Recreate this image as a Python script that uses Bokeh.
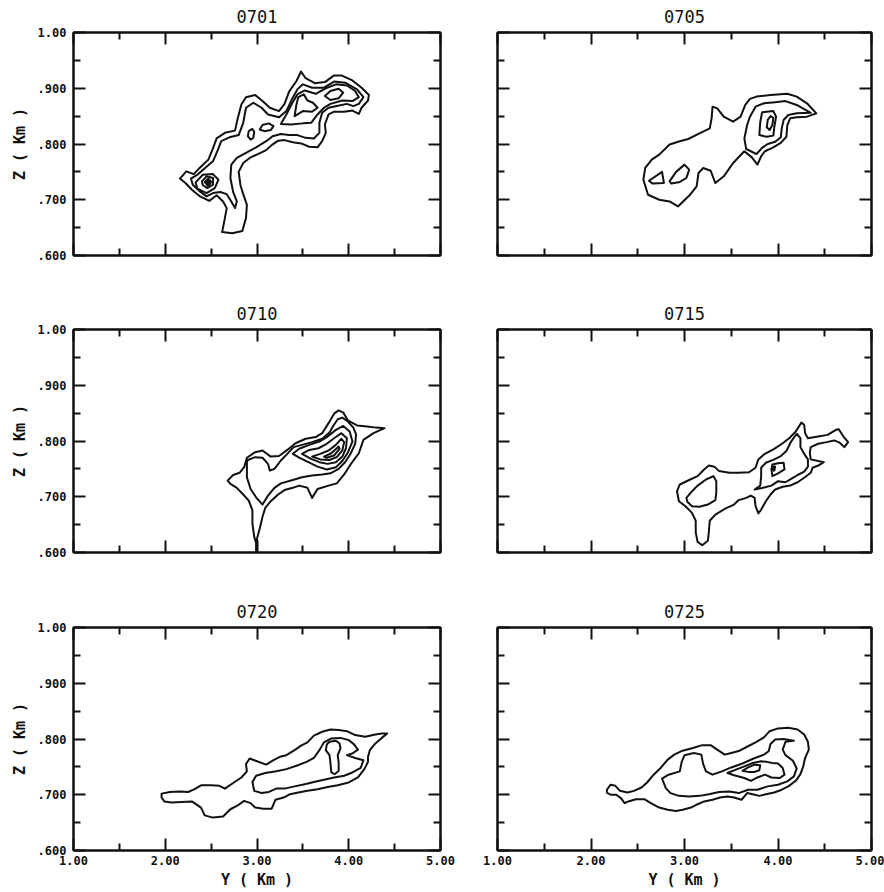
from bokeh.plotting import figure
from bokeh.layouts import column, row
from bokeh.models import Range1d, LinearAxis, FixedTicker, CustomJSTickFormatter
from bokeh.embed import file_html
from bokeh.resources import INLINE

# ---- axes -------------------------------------------------------------
y_km_ticks = [1.0, 2.0, 3.0, 4.0, 5.0]
y_km_minor = [1.5, 2.5, 3.5, 4.5]
y_km_labels = ["1.00", "2.00", "3.00", "4.00", "5.00"]
z_km_ticks = [0.6, 0.7, 0.8, 0.9, 1.0]
z_km_minor = [0.65, 0.75, 0.85, 0.95]
z_km_labels = [".600", ".700", ".800", ".900", "1.00"]

times = ["0701", "0705", "0710", "0715", "0720", "0725"]

# ---- 0701 contours (Y km, Z km) ---------------------------------------
t0701_1_y = [2.16, 2.23, 2.31, 2.38, 2.47, 2.52, 2.56, 2.65, 2.76, 2.79, 2.83, 2.88, 2.98, 3.06, 3.14, 3.24,
             3.30, 3.35, 3.43, 3.48, 3.53, 3.63, 3.74, 3.84, 3.92, 4.04, 4.14, 4.22, 4.21, 4.14, 4.11, 4.04,
             3.95, 3.84, 3.78, 3.74, 3.75, 3.71, 3.66, 3.57, 3.48, 3.39, 3.30, 3.23, 3.16, 3.10, 3.01, 2.92,
             2.85, 2.80, 2.82, 2.85, 2.89, 2.88, 2.84, 2.73, 2.62, 2.65, 2.67, 2.63, 2.56, 2.48, 2.38, 2.29, 2.22]
t0701_1_z = [0.738, 0.751, 0.746, 0.758, 0.772, 0.792, 0.810, 0.820, 0.824, 0.846, 0.871, 0.884, 0.888, 0.877,
             0.865, 0.859, 0.872, 0.894, 0.913, 0.930, 0.918, 0.909, 0.911, 0.923, 0.923, 0.914, 0.901, 0.888,
             0.878, 0.865, 0.854, 0.860, 0.858, 0.858, 0.853, 0.835, 0.820, 0.805, 0.794, 0.795, 0.801, 0.803,
             0.807, 0.806, 0.798, 0.789, 0.782, 0.775, 0.766, 0.750, 0.726, 0.710, 0.691, 0.667, 0.644, 0.640,
             0.642, 0.667, 0.685, 0.697, 0.708, 0.698, 0.706, 0.718, 0.730]
t0701_2_y = [2.28, 2.36, 2.44, 2.52, 2.57, 2.61, 2.70, 2.80, 2.85, 2.88, 2.96, 3.05, 3.12, 3.24, 3.32, 3.38,
             3.44, 3.50, 3.60, 3.73, 3.84, 3.96, 4.09, 4.16, 4.11, 4.05, 3.98, 3.87, 3.78, 3.71, 3.68, 3.68,
             3.62, 3.53, 3.44, 3.35, 3.26, 3.17, 3.10, 2.99, 2.88, 2.78, 2.72, 2.71, 2.74, 2.78, 2.76, 2.72,
             2.67, 2.60, 2.52, 2.45, 2.37, 2.30]
t0701_2_z = [0.738, 0.746, 0.758, 0.769, 0.788, 0.805, 0.812, 0.816, 0.838, 0.865, 0.874, 0.865, 0.853, 0.848,
             0.859, 0.880, 0.898, 0.907, 0.901, 0.901, 0.912, 0.910, 0.898, 0.884, 0.872, 0.868, 0.872, 0.868,
             0.865, 0.856, 0.838, 0.820, 0.810, 0.811, 0.816, 0.816, 0.818, 0.814, 0.805, 0.794, 0.784, 0.775,
             0.763, 0.739, 0.714, 0.697, 0.685, 0.697, 0.710, 0.714, 0.712, 0.706, 0.716, 0.727]
t0701_3_y = [3.26, 3.32, 3.38, 3.44, 3.52, 3.64, 3.75, 3.86, 3.98, 4.07, 4.11, 4.04, 3.93, 3.80, 3.73, 3.66,
             3.59, 3.50, 3.37]
t0701_3_z = [0.836, 0.853, 0.872, 0.889, 0.896, 0.890, 0.900, 0.907, 0.905, 0.895, 0.884, 0.877, 0.878, 0.872,
             0.865, 0.853, 0.838, 0.837, 0.835]
t0701_4_y = [3.41, 3.43, 3.45, 3.51, 3.55, 3.61, 3.66, 3.60, 3.50]
t0701_4_z = [0.850, 0.871, 0.884, 0.889, 0.878, 0.874, 0.865, 0.858, 0.859]
t0701_5_y = [3.74, 3.80, 3.89, 3.94, 3.89, 3.80]
t0701_5_z = [0.886, 0.895, 0.899, 0.892, 0.882, 0.879]
t0701_6_y = [2.90, 2.91, 2.95, 2.97, 2.96, 2.93]
t0701_6_z = [0.814, 0.823, 0.827, 0.822, 0.811, 0.808]
t0701_7_y = [3.03, 3.06, 3.13, 3.18, 3.15, 3.08]
t0701_7_z = [0.826, 0.834, 0.837, 0.832, 0.825, 0.823]
t0701_8_y = [2.33, 2.41, 2.52, 2.58, 2.54, 2.45, 2.35]
t0701_8_z = [0.731, 0.745, 0.746, 0.736, 0.721, 0.712, 0.720]
t0701_9_y = [2.40, 2.45, 2.52, 2.52, 2.46, 2.41]
t0701_9_z = [0.733, 0.742, 0.739, 0.727, 0.721, 0.726]
t0701_peak_y = [2.43, 2.47, 2.50, 2.47]
t0701_peak_z = [0.732, 0.738, 0.732, 0.724]

# ---- 0705 contours ----------------------------------------------------
t0705_1_y = [2.56, 2.58, 2.65, 2.73, 2.84, 2.95, 3.04, 3.16, 3.27, 3.29, 3.30, 3.35, 3.42, 3.52, 3.60, 3.65,
             3.70, 3.77, 3.92, 4.10, 4.20, 4.31, 4.41, 4.31, 4.20, 4.13, 4.10, 4.09, 4.03, 3.94, 3.86, 3.82,
             3.78, 3.72, 3.64, 3.52, 3.42, 3.33, 3.28, 3.20, 3.15, 3.13, 3.06, 2.93, 2.84, 2.73, 2.61]
t0705_1_z = [0.736, 0.757, 0.772, 0.781, 0.799, 0.805, 0.809, 0.819, 0.828, 0.846, 0.867, 0.864, 0.849, 0.840,
             0.849, 0.870, 0.881, 0.885, 0.888, 0.890, 0.885, 0.873, 0.855, 0.849, 0.848, 0.846, 0.834, 0.813,
             0.802, 0.793, 0.787, 0.778, 0.763, 0.776, 0.787, 0.766, 0.742, 0.730, 0.752, 0.757, 0.748, 0.724,
             0.709, 0.688, 0.697, 0.700, 0.709]
t0705_2_y = [3.66, 3.64, 3.67, 3.70, 3.76, 3.85, 3.97, 4.08, 4.20, 4.35, 4.20, 4.11, 4.06, 4.04, 4.03, 3.97,
             3.89, 3.83, 3.77, 3.71]
t0705_2_z = [0.791, 0.810, 0.834, 0.849, 0.867, 0.873, 0.875, 0.877, 0.870, 0.856, 0.855, 0.852, 0.843, 0.828,
             0.812, 0.804, 0.800, 0.793, 0.782, 0.787]
t0705_3_y = [3.80, 3.81, 3.83, 3.95, 3.98, 3.96, 3.95, 3.88]
t0705_3_z = [0.816, 0.839, 0.857, 0.859, 0.849, 0.830, 0.815, 0.813]
t0705_4_y = [3.88, 3.89, 3.92, 3.95, 3.94, 3.91]
t0705_4_z = [0.830, 0.843, 0.850, 0.847, 0.834, 0.825]
t0705_5_y = [2.62, 2.76, 2.78, 2.66]
t0705_5_z = [0.734, 0.750, 0.730, 0.729]
t0705_6_y = [2.84, 2.91, 3.00, 3.05, 3.02, 2.95, 2.86]
t0705_6_z = [0.733, 0.750, 0.763, 0.754, 0.739, 0.732, 0.729]

# ---- 0710 contours ----------------------------------------------------
t0710_1_y = [2.68, 2.74, 2.81, 2.86, 2.89, 2.98, 3.06, 3.10, 3.15, 3.24, 3.33, 3.42, 3.53, 3.64, 3.71, 3.78,
             3.84, 3.89, 3.94, 3.99, 4.09, 4.20, 4.30, 4.39, 4.27, 4.16, 4.11, 4.02, 3.95, 3.87, 3.78, 3.66,
             3.60, 3.55, 3.46, 3.39, 3.30, 3.23, 3.15, 3.09, 3.06, 3.03, 3.00, 3.00, 2.99, 2.99, 2.97, 2.95,
             2.95, 2.91, 2.85, 2.78, 2.71]
t0710_1_z = [0.729, 0.739, 0.743, 0.753, 0.770, 0.780, 0.783, 0.778, 0.772, 0.773, 0.784, 0.796, 0.804, 0.807,
             0.814, 0.832, 0.849, 0.855, 0.851, 0.837, 0.828, 0.826, 0.824, 0.823, 0.814, 0.802, 0.778, 0.758,
             0.740, 0.724, 0.720, 0.714, 0.698, 0.716, 0.720, 0.716, 0.712, 0.704, 0.692, 0.680, 0.664, 0.643,
             0.625, 0.617, 0.600, 0.617, 0.628, 0.652, 0.676, 0.693, 0.704, 0.716, 0.723]
t0710_2_y = [2.89, 2.89, 2.93, 2.99, 3.06, 3.12, 3.19, 3.26, 3.39, 3.49, 3.60, 3.71, 3.80, 3.89, 3.96, 4.02,
             4.07, 4.08, 4.05, 3.99, 3.93, 3.88, 3.83, 3.79, 3.71, 3.60, 3.49, 3.40, 3.33, 3.26, 3.19, 3.14,
             3.12, 3.06, 2.98, 2.90]
t0710_2_z = [0.762, 0.735, 0.714, 0.699, 0.686, 0.702, 0.716, 0.724, 0.730, 0.735, 0.738, 0.740, 0.742, 0.750,
             0.762, 0.777, 0.795, 0.812, 0.824, 0.835, 0.842, 0.839, 0.827, 0.815, 0.804, 0.798, 0.793, 0.789,
             0.777, 0.765, 0.750, 0.747, 0.759, 0.770, 0.771, 0.766]
t0710_3_y = [3.39, 3.46, 3.57, 3.68, 3.77, 3.86, 3.94, 4.01, 4.04, 3.99, 3.93, 3.86, 3.76, 3.66, 3.56, 3.46]
t0710_3_z = [0.777, 0.786, 0.793, 0.799, 0.808, 0.820, 0.827, 0.817, 0.799, 0.779, 0.764, 0.753, 0.749, 0.754,
             0.762, 0.770]
t0710_4_y = [3.49, 3.57, 3.67, 3.76, 3.84, 3.92, 3.98, 3.97, 3.93, 3.86, 3.77, 3.68, 3.59]
t0710_4_z = [0.777, 0.784, 0.787, 0.795, 0.805, 0.814, 0.805, 0.787, 0.772, 0.762, 0.759, 0.762, 0.768]
t0710_5_y = [3.60, 3.69, 3.78, 3.86, 3.92, 3.95, 3.93, 3.87, 3.79, 3.69]
t0710_5_z = [0.772, 0.777, 0.783, 0.793, 0.804, 0.798, 0.783, 0.771, 0.766, 0.767]
t0710_6_y = [3.73, 3.81, 3.89, 3.90, 3.84, 3.76]
t0710_6_z = [0.772, 0.778, 0.790, 0.786, 0.774, 0.770]

# ---- 0715 contours ----------------------------------------------------
t0715_1_y = [2.92, 2.95, 3.05, 3.14, 3.21, 3.26, 3.32, 3.37, 3.48, 3.58, 3.69, 3.76, 3.79, 3.85, 3.96, 4.05,
             4.12, 4.19, 4.25, 4.28, 4.29, 4.32, 4.43, 4.53, 4.62, 4.65, 4.70, 4.75, 4.71, 4.66, 4.60, 4.52,
             4.43, 4.35, 4.34, 4.35, 4.43, 4.49, 4.43, 4.37, 4.35, 4.28, 4.21, 4.13, 4.05, 3.97, 3.92, 3.87,
             3.82, 3.79, 3.76, 3.75, 3.71, 3.66, 3.58, 3.53, 3.44, 3.33, 3.27, 3.26, 3.25, 3.19, 3.14, 3.12,
             3.12, 3.08, 3.01, 2.94]
t0715_1_z = [0.710, 0.722, 0.730, 0.737, 0.749, 0.756, 0.754, 0.746, 0.743, 0.743, 0.744, 0.752, 0.767, 0.776,
             0.786, 0.796, 0.805, 0.817, 0.833, 0.829, 0.814, 0.805, 0.808, 0.811, 0.820, 0.821, 0.808, 0.798,
             0.789, 0.797, 0.801, 0.798, 0.795, 0.789, 0.779, 0.767, 0.764, 0.762, 0.756, 0.752, 0.743, 0.734,
             0.726, 0.720, 0.718, 0.713, 0.704, 0.692, 0.677, 0.670, 0.683, 0.698, 0.702, 0.698, 0.694, 0.686,
             0.679, 0.668, 0.657, 0.636, 0.621, 0.613, 0.619, 0.636, 0.657, 0.671, 0.683, 0.692]
t0715_2_y = [3.75, 3.81, 3.82, 3.82, 3.87, 3.96, 4.03, 4.09, 4.14, 4.20, 4.24, 4.24, 4.28, 4.32, 4.32, 4.28,
             4.21, 4.15, 4.08, 4.00, 3.93, 3.84]
t0715_2_z = [0.713, 0.720, 0.737, 0.752, 0.761, 0.767, 0.773, 0.782, 0.799, 0.813, 0.805, 0.789, 0.777, 0.767,
             0.754, 0.745, 0.739, 0.733, 0.726, 0.728, 0.720, 0.716]
t0715_3_y = [3.93, 3.94, 4.00, 4.06, 4.07, 4.00, 3.94]
t0715_3_z = [0.749, 0.758, 0.760, 0.761, 0.749, 0.742, 0.737]
t0715_peak_y = [3.93, 3.97, 3.96]
t0715_peak_z = [0.752, 0.755, 0.746]
t0715_4_y = [3.02, 3.07, 3.14, 3.23, 3.31, 3.34, 3.34, 3.33, 3.25, 3.16, 3.08, 3.03]
t0715_4_z = [0.698, 0.708, 0.720, 0.731, 0.737, 0.728, 0.707, 0.694, 0.686, 0.682, 0.683, 0.691]

# ---- 0720 contours ----------------------------------------------------
t0720_1_y = [1.96, 2.05, 2.16, 2.25, 2.32, 2.39, 2.50, 2.59, 2.65, 2.74, 2.83, 2.89, 2.88, 2.92, 3.00, 3.10,
             3.18, 3.25, 3.32, 3.41, 3.48, 3.55, 3.62, 3.71, 3.80, 3.89, 3.98, 4.07, 4.18, 4.29, 4.36, 4.42,
             4.36, 4.29, 4.23, 4.21, 4.21, 4.17, 4.10, 4.00, 3.88, 3.77, 3.66, 3.55, 3.45, 3.36, 3.29, 3.20,
             3.16, 3.07, 2.98, 2.93, 2.86, 2.79, 2.71, 2.63, 2.52, 2.43, 2.39, 2.29, 2.18, 2.07, 1.99, 1.96]
t0720_1_z = [0.702, 0.705, 0.706, 0.705, 0.710, 0.717, 0.717, 0.716, 0.711, 0.721, 0.731, 0.742, 0.755, 0.765,
             0.760, 0.754, 0.762, 0.768, 0.771, 0.780, 0.788, 0.794, 0.806, 0.813, 0.817, 0.816, 0.814, 0.807,
             0.804, 0.808, 0.810, 0.810, 0.802, 0.792, 0.780, 0.768, 0.759, 0.746, 0.731, 0.722, 0.717, 0.714,
             0.710, 0.707, 0.704, 0.701, 0.695, 0.691, 0.675, 0.675, 0.677, 0.685, 0.689, 0.681, 0.674, 0.661,
             0.659, 0.663, 0.677, 0.688, 0.687, 0.686, 0.688, 0.695]
t0720_2_y = [2.97, 2.95, 2.99, 3.09, 3.21, 3.32, 3.43, 3.54, 3.62, 3.68, 3.73, 3.81, 3.91, 4.00, 4.06, 4.10,
             4.04, 3.98, 4.07, 4.16, 4.13, 4.04, 3.95, 3.84, 3.73, 3.62, 3.52, 3.41, 3.30, 3.21, 3.13, 3.05]
t0720_2_z = [0.707, 0.723, 0.734, 0.739, 0.742, 0.746, 0.752, 0.759, 0.766, 0.780, 0.794, 0.801, 0.802, 0.798,
             0.790, 0.781, 0.774, 0.771, 0.766, 0.762, 0.748, 0.740, 0.734, 0.731, 0.727, 0.723, 0.719, 0.715,
             0.711, 0.711, 0.705, 0.703]
t0720_3_y = [3.76, 3.79, 3.86, 3.90, 3.91, 3.88, 3.89, 3.89, 3.85, 3.81, 3.80, 3.79, 3.75]
t0720_3_z = [0.790, 0.795, 0.797, 0.792, 0.783, 0.771, 0.758, 0.743, 0.737, 0.740, 0.758, 0.771, 0.780]

# ---- 0725 contours ----------------------------------------------------
t0725_1_y = [2.17, 2.21, 2.26, 2.31, 2.39, 2.46, 2.54, 2.60, 2.67, 2.75, 2.82, 2.89, 2.98, 3.09, 3.19, 3.28,
             3.35, 3.43, 3.50, 3.59, 3.68, 3.77, 3.85, 3.91, 4.00, 4.11, 4.21, 4.28, 4.32, 4.33, 4.29, 4.27,
             4.24, 4.19, 4.11, 4.04, 3.96, 3.87, 3.80, 3.73, 3.67, 3.61, 3.53, 3.46, 3.38, 3.30, 3.21, 3.14,
             3.07, 2.98, 2.91, 2.82, 2.73, 2.64, 2.57, 2.48, 2.40, 2.36, 2.32, 2.27, 2.21, 2.17]
t0725_1_z = [0.709, 0.718, 0.716, 0.707, 0.704, 0.707, 0.713, 0.722, 0.736, 0.749, 0.763, 0.772, 0.779, 0.784,
             0.789, 0.789, 0.781, 0.772, 0.775, 0.779, 0.787, 0.795, 0.803, 0.814, 0.819, 0.820, 0.817, 0.808,
             0.795, 0.781, 0.766, 0.751, 0.737, 0.725, 0.715, 0.709, 0.704, 0.701, 0.698, 0.701, 0.703, 0.691,
             0.695, 0.697, 0.695, 0.691, 0.688, 0.683, 0.677, 0.673, 0.671, 0.673, 0.677, 0.685, 0.692, 0.692,
             0.688, 0.685, 0.694, 0.700, 0.700, 0.704]
t0725_2_y = [2.80, 2.76, 2.83, 2.95, 2.97, 3.00, 3.10, 3.18, 3.20, 3.23, 3.30, 3.40, 3.50, 3.62, 3.74, 3.85,
             3.90, 3.92, 3.97, 4.06, 4.17, 4.08, 4.05, 4.08, 4.16, 4.20, 4.17, 4.10, 4.00, 3.89, 3.78, 3.68,
             3.58, 3.48, 3.37, 3.26, 3.16, 3.05, 2.94, 2.85]
t0725_2_z = [0.712, 0.729, 0.736, 0.742, 0.759, 0.771, 0.775, 0.772, 0.755, 0.742, 0.736, 0.742, 0.749, 0.756,
             0.765, 0.772, 0.778, 0.791, 0.799, 0.800, 0.797, 0.795, 0.781, 0.771, 0.761, 0.747, 0.733, 0.724,
             0.718, 0.715, 0.709, 0.709, 0.703, 0.706, 0.705, 0.701, 0.698, 0.697, 0.698, 0.703]
t0725_3_y = [3.46, 3.55, 3.64, 3.73, 3.82, 3.88, 3.94, 4.00, 4.05, 4.07, 4.02, 3.93, 3.86, 3.78, 3.71, 3.64, 3.53]
t0725_3_z = [0.739, 0.745, 0.751, 0.757, 0.760, 0.759, 0.757, 0.756, 0.748, 0.736, 0.730, 0.731, 0.736, 0.731,
             0.725, 0.730, 0.735]
t0725_4_y = [3.62, 3.68, 3.75, 3.81, 3.80, 3.75, 3.68]
t0725_4_z = [0.743, 0.749, 0.754, 0.753, 0.744, 0.741, 0.741]

outlines = {
    "0701": [(t0701_1_y, t0701_1_z), (t0701_2_y, t0701_2_z), (t0701_3_y, t0701_3_z),
             (t0701_4_y, t0701_4_z), (t0701_5_y, t0701_5_z), (t0701_6_y, t0701_6_z),
             (t0701_7_y, t0701_7_z), (t0701_8_y, t0701_8_z), (t0701_9_y, t0701_9_z)],
    "0705": [(t0705_1_y, t0705_1_z), (t0705_2_y, t0705_2_z), (t0705_3_y, t0705_3_z),
             (t0705_4_y, t0705_4_z), (t0705_5_y, t0705_5_z), (t0705_6_y, t0705_6_z)],
    "0710": [(t0710_1_y, t0710_1_z), (t0710_2_y, t0710_2_z), (t0710_3_y, t0710_3_z),
             (t0710_4_y, t0710_4_z), (t0710_5_y, t0710_5_z), (t0710_6_y, t0710_6_z)],
    "0715": [(t0715_1_y, t0715_1_z), (t0715_2_y, t0715_2_z), (t0715_3_y, t0715_3_z),
             (t0715_4_y, t0715_4_z)],
    "0720": [(t0720_1_y, t0720_1_z), (t0720_2_y, t0720_2_z), (t0720_3_y, t0720_3_z)],
    "0725": [(t0725_1_y, t0725_1_z), (t0725_2_y, t0725_2_z), (t0725_3_y, t0725_3_z),
             (t0725_4_y, t0725_4_z)],
}
peaks = {
    "0701": [(t0701_peak_y, t0701_peak_z)],
    "0715": [(t0715_peak_y, t0715_peak_z)],
}

FONT = "DejaVu Sans Mono"
INK = "#111111"


def tick_labels(vals, labels):
    return CustomJSTickFormatter(args=dict(vals=vals, labels=labels), code="""
        for (let i = 0; i < vals.length; i++) {
            if (Math.abs(vals[i] - tick) < 1e-6) { return labels[i]; }
        }
        return '';
    """)


def style_axis(ax, ticks, minor, labels=None, title=None):
    ax.ticker = FixedTicker(ticks=ticks, minor_ticks=minor)
    ax.major_tick_in = 12
    ax.major_tick_out = 0
    ax.minor_tick_in = 7
    ax.minor_tick_out = 0
    for prop in ("axis_line", "major_tick_line", "minor_tick_line"):
        setattr(ax, prop + "_color", INK)
        setattr(ax, prop + "_width", 2)
    if labels is None:
        ax.formatter = CustomJSTickFormatter(code="return '';")
        ax.major_label_standoff = 0
        ax.major_label_text_font_size = "1px"
    else:
        ax.formatter = tick_labels(ticks, labels)
        ax.major_label_text_font = FONT
        ax.major_label_text_font_style = "bold"
        ax.major_label_text_font_size = "12px"
        ax.major_label_text_color = INK
    if title is not None:
        ax.axis_label = title
        ax.axis_label_text_font = FONT
        ax.axis_label_text_font_style = "bold"
        ax.axis_label_text_font_size = "15px"
        ax.axis_label_text_color = INK


def make_panel(name, col, row_i):
    left = col == 0
    bottom = row_i == 2
    p = figure(width=470 if left else 414, height=298 if bottom else 297,
               x_range=Range1d(1, 5), y_range=Range1d(0.6, 1.0),
               output_backend="svg", toolbar_location=None, title=name,
               min_border_left=73 if left else 27, min_border_right=30 if left else 13,
               min_border_top=33 if bottom else 32, min_border_bottom=42)
    p.grid.visible = False
    p.outline_line_color = INK
    p.outline_line_width = 2
    p.background_fill_color = "white"
    p.border_fill_color = "white"

    p.title.align = "center"
    p.title.vertical_align = "top"
    p.title.text_font = FONT
    p.title.text_font_size = "17px"
    p.title.text_font_style = "normal"
    p.title.text_color = INK
    p.title.standoff = 16

    xb = p.xaxis[0]
    yl = p.yaxis[0]
    style_axis(xb, y_km_ticks, y_km_minor,
               y_km_labels if bottom else None, "Y ( Km )" if bottom else None)
    if bottom:
        xb.major_label_standoff = 5
        xb.axis_label_standoff = 3
    style_axis(yl, z_km_ticks, z_km_minor,
               z_km_labels if left else None, "Z ( Km )" if left else None)
    if left:
        yl.major_label_standoff = 7
        yl.axis_label_standoff = 6

    xt = LinearAxis()
    style_axis(xt, y_km_ticks, y_km_minor)
    p.add_layout(xt, "above")
    yr = LinearAxis()
    style_axis(yr, z_km_ticks, z_km_minor)
    p.add_layout(yr, "right")

    lines = outlines[name]
    p.patches([c[0] for c in lines], [c[1] for c in lines],
              fill_color=None, line_color=INK, line_width=2, line_join="round")
    for py, pz in peaks.get(name, []):
        p.patch(py, pz, fill_color=INK, line_color=INK, line_width=2)
    return p


panels = [make_panel(t, i % 2, i // 2) for i, t in enumerate(times)]
layout = column(row(panels[0], panels[1]), row(panels[2], panels[3]), row(panels[4], panels[5]))

open("out.html", "w").write(file_html(layout, INLINE))
